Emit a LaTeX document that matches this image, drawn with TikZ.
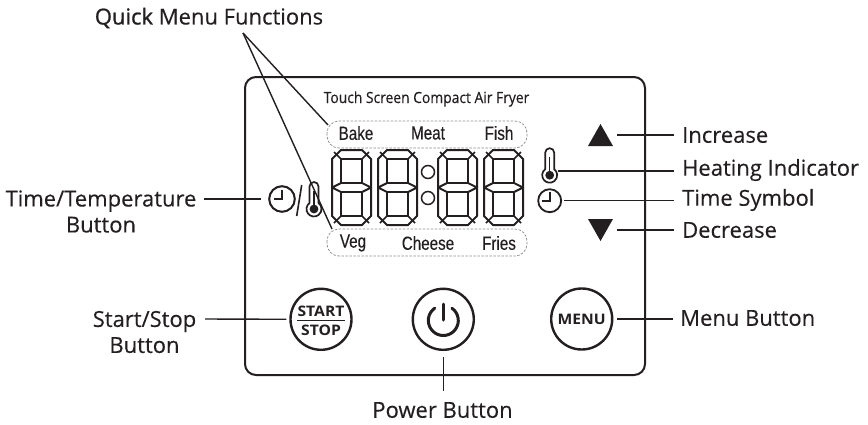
\documentclass[tikz,border=0pt]{standalone}
\usepackage{fontspec}
\setmainfont[FakeBold=0.25]{Open Sans}
\newfontfamily\condfont[FakeStretch=0.8,FakeBold=0.3]{Liberation Sans}
\newfontfamily\titlefont[FakeStretch=0.9,FakeBold=0.4]{Open Sans}
\newfontfamily\btnfont[FakeStretch=1.08]{Open Sans}
\newfontfamily\quickfont[FakeBold=1]{Open Sans}
\usetikzlibrary{calc}
\definecolor{ink}{HTML}{231F20}
\tikzset{
  leader/.style={draw=ink,line width=1.4pt},
  panel/.style={draw=ink,line width=2pt,rounded corners=11pt},
  pill/.style={draw=black!45,line width=.7pt,dash pattern=on 2.5pt off 1.5pt,rounded corners=12pt},
  lbl/.style={inner sep=0pt,font=\fontsize{22}{26}\selectfont,text=ink},
  lblc/.style={lbl,align=center},
  small/.style={inner sep=0pt,font=\condfont\fontsize{19}{21}\selectfont,text=ink},
  btn/.style={circle,draw=ink,line width=2.4pt,minimum size=61pt,inner sep=0pt,fill=white},
  btntext/.style={inner sep=0pt,font=\btnfont\bfseries\fontsize{14.5}{14.5}\selectfont,text=ink},
  seg/.style={draw=ink,line width=1.5pt,line join=round},
  digit/.pic={
    \draw[seg,line width=2pt] (9,0)--(30,0)--(39,-9)--(39,-66)--(30,-75)--(9,-75)--(0,-66)--(0,-9)--cycle;
    \draw[seg] (9,-9)--(30,-9)--(30,-33)--(9,-33)--cycle;
    \draw[seg] (9,-42)--(30,-42)--(30,-66)--(9,-66)--cycle;
    \draw[seg] (2,-2)--(9,-9) (37,-2)--(30,-9) (2,-73)--(9,-66) (37,-73)--(30,-66);
    \draw[seg,line width=2pt] (0,-37.5)--(9,-33) (0,-37.5)--(9,-42) (39,-37.5)--(30,-33) (39,-37.5)--(30,-42);
  },
  thermo/.pic={
    \draw[draw=ink,line width=1.7pt,fill=white] (127:7.5pt) arc (127:413:7.5pt) -- (4.5,22.5) arc (0:180:4.5pt) -- cycle;
    \fill[ink] (0,0) circle (4.4pt);
    \draw[ink,line width=1.3pt] (0,0)--(0,18);
  },
  clockface/.pic={
    \draw[ink,line width=1.8pt] (0,0) circle (11.5pt);
    \draw[ink,line width=1.6pt,line join=miter] (0,9)--(0,0)--(-7.5,0);
  },
  bigclock/.pic={
    \draw[ink,line width=2pt] (0,0) circle (12.8pt);
    \draw[ink,line width=1.8pt,line join=miter] (0,9.5)--(0,0)--(-8.5,0);
  }
}
\begin{document}
\begin{tikzpicture}[x=1pt,y=1pt]
\useasboundingbox (0,0) rectangle (868,-424);
\fill[white] (0,0) rectangle (868,-424);
% panel
\draw[panel] (245,-77) rectangle (645,-375);
% pills
\draw[pill] (327,-121) rectangle (527,-148);
\draw[pill] (327,-229) rectangle (527,-256);
% title
\node[inner sep=0pt,font=\titlefont\fontsize{15.4}{16}\selectfont,text=ink] (title) at (426.5,-99) {Touch Screen Compact Air Fryer};
% menu words
\node[small] (bake) at (356,-133) {Bake};
\node[small] (meat) at (428,-133) {Meat};
\node[small] (fish) at (499,-133) {Fish};
\node[small] (veg) at (353,-243) {Veg};
\node[small] (cheese) at (428,-243) {Cheese};
\node[small] (fries) at (499,-243) {Fries};
% digits
\pic (d1) at (332,-150) {digit};
\pic (d2) at (378,-150) {digit};
\pic (d3) at (438,-150) {digit};
\pic (d4) at (484,-150) {digit};
\draw[ink,line width=1.5pt] (428,-172) circle (6.5pt) (428,-198) circle (6.5pt);
% indicators
\fill[ink] (600.5,-124) -- (613,-146) -- (588,-146) -- cycle;
\fill[ink] (600.5,-241) -- (613,-219) -- (588,-219) -- cycle;
\coordinate (triUp) at (617,-135);
\coordinate (triDown) at (617,-230);
\pic (th1) at (549.7,-175.2) {thermo};
\pic (ck1) at (549.7,-200.7) {clockface};
\coordinate (th1r) at (558,-171);
\coordinate (ck1r) at (564,-200.5);
% time/temp symbol
\pic (ck2) at (282,-199) {bigclock};
\draw[ink,line width=1.6pt] (301.7,-185)--(296.7,-216);
\pic (th2) at (314,-209) {thermo};
\coordinate (ck2l) at (260.7,-199);
% buttons
\node[btn] (start) at (321,-319.3) {};
\node[btntext] (starttxt) at (321,-311) {START};
\node[btntext] (stoptxt) at (321,-330) {STOP};
\draw[ink,line width=1.3pt] (297,-320.3)--(345,-320.3);
\node[btn] (power) at (443.3,-319.3) {};
\draw[ink,line width=3pt,line cap=round] (443.3,-304)--(443.3,-320);
\draw[ink,line width=3pt,line cap=round] (443.3,-320.5) ++(55:15pt) arc (55:-235:15pt);
\node[btn] (menu) at (581.7,-319) {};
\node[btntext] at (581.7,-319) (menutxt) {MENU};
% labels
\node[lbl,anchor=west] (inc) at (682,-135) {Increase};
\node[lbl,anchor=west] (heat) at (682,-170) {Heating Indicator};
\node[lbl,anchor=west] (timesym) at (682,-200) {Time Symbol};
\node[lbl,anchor=west] (dec) at (682,-230) {Decrease};
\node[lbl,anchor=west] (menulbl) at (680,-318) {Menu Button};
\node[lblc] (powerlbl) at (442.5,-410) {Power Button};
\node[lblc] (startlbl) at (144.5,-332) {Start/Stop\\Button};
\node[lblc] (timelbl) at (101,-211.5) {Time/Temperature\\Button};
\node[lbl] (quick) at (209,-18) {{\quickfont Quick} Menu Functions};
\coordinate (apex) at (243,-33);
\coordinate (bakepill) at (328,-125);
\coordinate (vegpill) at (332,-229);
\coordinate (timeR) at (204,-199);
\coordinate (startR) at (205,-319);
\coordinate (menuR) at (673,-319);
\coordinate (powT) at (443.3,-357);
\coordinate (powB) at (443.3,-391);
\coordinate (incL) at (674,-135);
\coordinate (heatL) at (674,-171);
\coordinate (timeL) at (674,-200.5);
\coordinate (decL) at (674,-230);
% connectors
\draw[leader] (apex) -- (bakepill);
\draw[leader] (apex) -- (vegpill);
\draw[leader] (timeR) -- (ck2l);
\draw[leader,shorten >=3pt] (startR) -- (start.west);
\draw[leader,shorten <=4pt] (menu.east) -- (menuR);
\draw[leader] (powT) -- (powB);
\draw[leader] (triUp) -- (incL);
\draw[leader] (th1r) -- (heatL);
\draw[leader] (ck1r) -- (timeL);
\draw[leader] (triDown) -- (decL);
\end{tikzpicture}
\end{document}
